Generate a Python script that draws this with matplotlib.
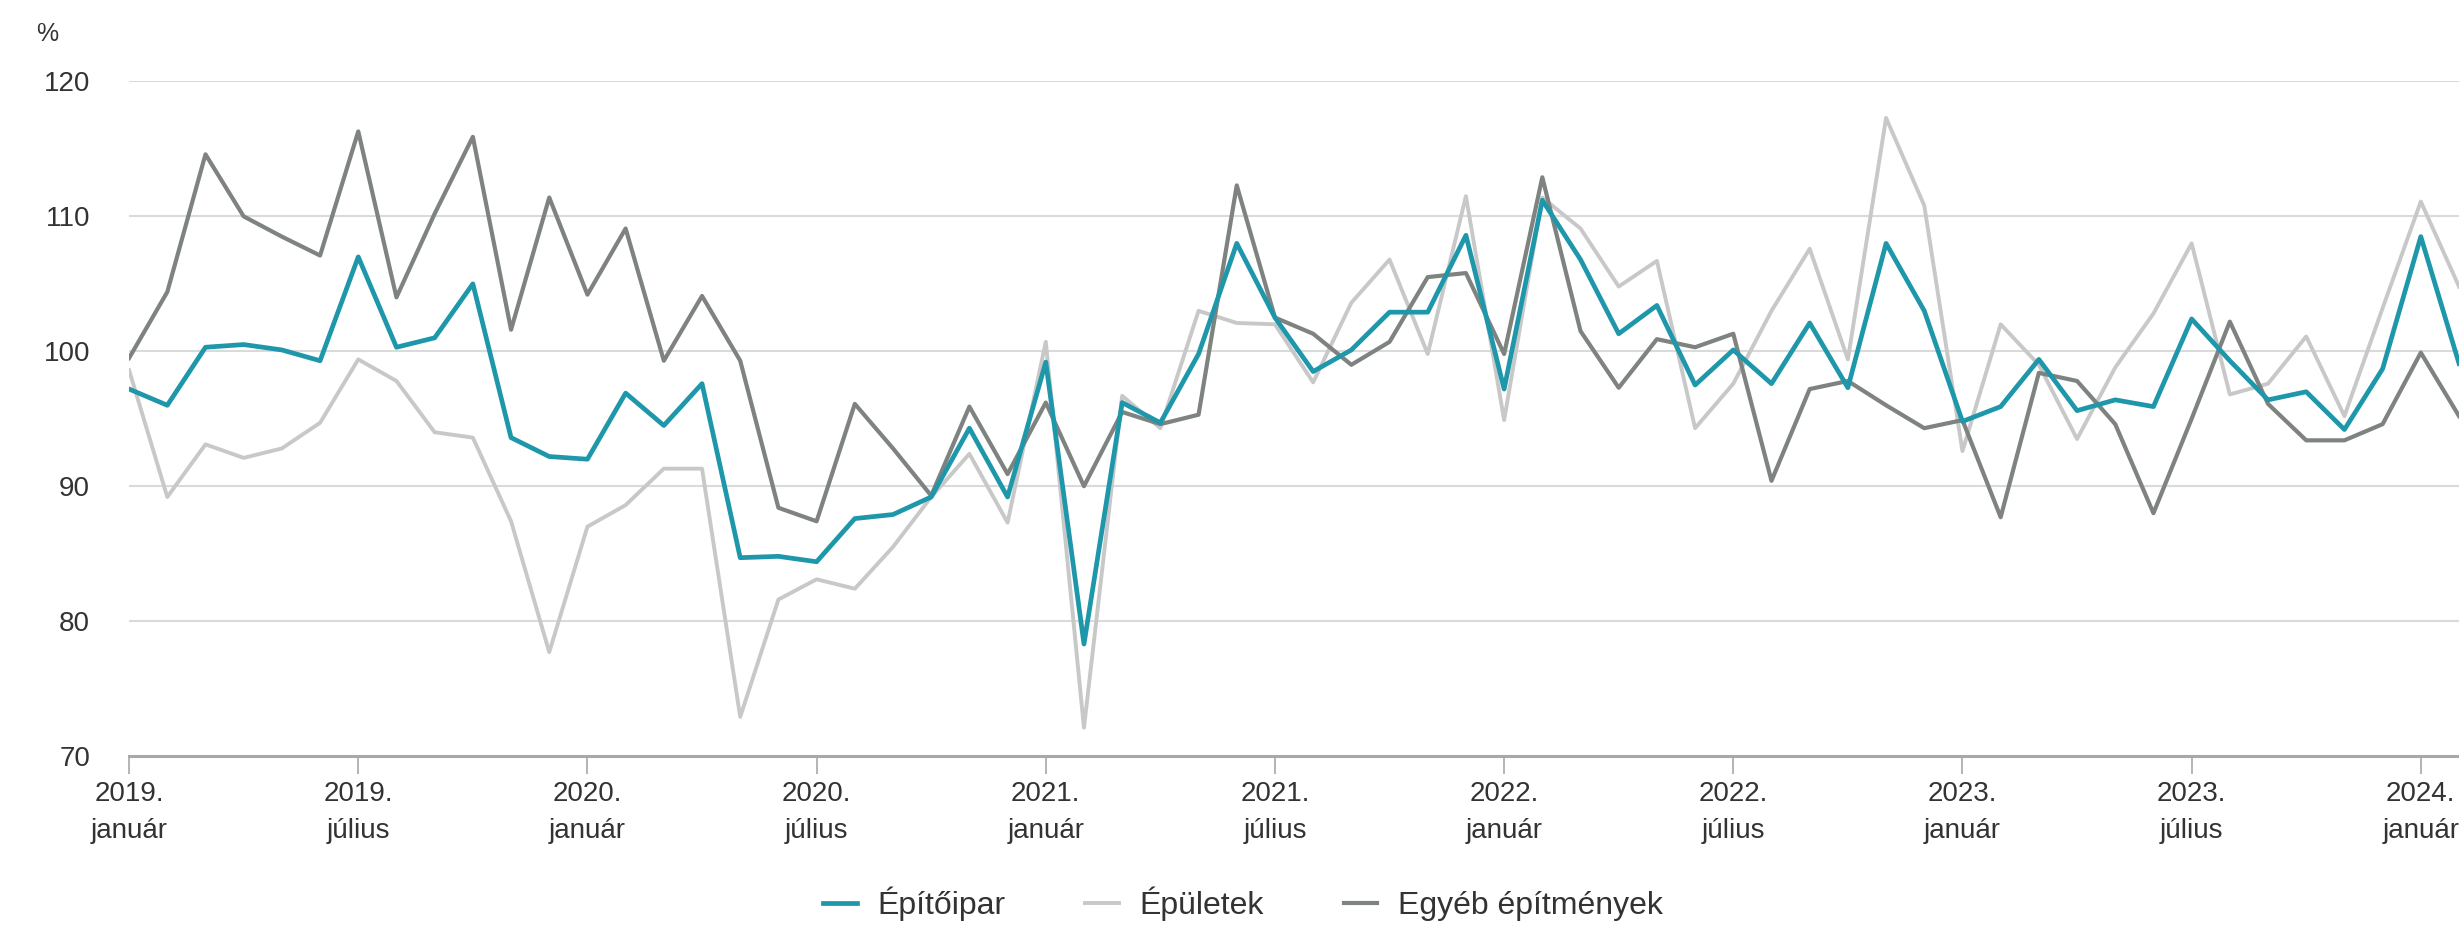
import numpy as np
import matplotlib.pyplot as plt

plt.rcParams['font.family'] = ['Liberation Sans', 'DejaVu Sans']

# monthly values, 2019 January .. 2024 February (previous year same month = 100)
months = np.arange(62)

epitoipar = [97.2, 96.0, 100.3, 100.5, 100.1, 99.3, 107.0, 100.3, 101.0, 105.0,
             93.6, 92.2, 92.0, 96.9, 94.5, 97.6, 84.7, 84.8, 84.4, 87.6,
             87.9, 89.2, 94.3, 89.2, 99.2, 78.3, 96.2, 94.7, 99.8, 108.0,
             102.5, 98.5, 100.1, 102.9, 102.9, 108.6, 97.2, 111.2, 106.8, 101.3,
             103.4, 97.5, 100.1, 97.6, 102.1, 97.3, 108.0, 103.0, 94.8, 95.9,
             99.4, 95.6, 96.4, 95.9, 102.4, 99.3, 96.4, 97.0, 94.2, 98.7,
             108.5, 99.1]

epuletek = [98.6, 89.2, 93.1, 92.1, 92.8, 94.7, 99.4, 97.8, 94.0, 93.6,
            87.4, 77.7, 87.0, 88.6, 91.3, 91.3, 72.9, 81.6, 83.1, 82.4,
            85.5, 89.2, 92.4, 87.3, 100.7, 72.1, 96.7, 94.3, 103.0, 102.1,
            102.0, 97.7, 103.6, 106.8, 99.8, 111.5, 94.9, 111.4, 109.1, 104.8,
            106.7, 94.3, 97.6, 103.0, 107.6, 99.4, 117.3, 110.8, 92.6, 102.0,
            99.0, 93.5, 98.8, 102.8, 108.0, 96.8, 97.6, 101.1, 95.2, 103.2,
            111.1, 104.8]

egyeb = [99.5, 104.4, 114.6, 110.0, 108.5, 107.1, 116.3, 104.0, 110.2, 115.9,
         101.6, 111.4, 104.2, 109.1, 99.3, 104.1, 99.3, 88.4, 87.4, 96.1,
         92.8, 89.3, 95.9, 90.9, 96.2, 90.0, 95.5, 94.6, 95.3, 112.3,
         102.5, 101.3, 99.0, 100.7, 105.5, 105.8, 99.8, 112.9, 101.5, 97.3,
         100.9, 100.3, 101.3, 90.4, 97.2, 97.8, 96.0, 94.3, 94.9, 87.7,
         98.4, 97.8, 94.6, 88.0, 95.0, 102.2, 96.1, 93.4, 93.4, 94.6,
         99.9, 95.2]

tick_pos = np.arange(0, 61, 6)
tick_labels = ['2019.\njanuár', '2019.\njúlius', '2020.\njanuár', '2020.\njúlius',
               '2021.\njanuár', '2021.\njúlius', '2022.\njanuár', '2022.\njúlius',
               '2023.\njanuár', '2023.\njúlius', '2024.\njanuár']

fig = plt.figure(figsize=(24.59, 9.25), dpi=100)
ax = fig.add_axes([0.0525, 0.1827, 0.9475, 0.7292])

ax.plot(months, epuletek, color='#c8c8c8', lw=2.8, label='Épületek', zorder=3)
ax.plot(months, egyeb, color='#7e8380', lw=3.0, label='Egyéb építmények', zorder=4)
ax.plot(months, epitoipar, color='#1f97ab', lw=3.4, label='Építőipar', zorder=5)

ax.set_xlim(0, 61)
ax.set_ylim(70, 120)
ax.set_yticks([70, 80, 90, 100, 110, 120])
ax.set_xticks(tick_pos)
ax.set_xticklabels(tick_labels, linespacing=1.55)

for y in [80, 90, 100, 110, 120]:
    ax.axhline(y, color='#dadada', lw=1.5, zorder=1)

for s in ['top', 'right', 'left']:
    ax.spines[s].set_visible(False)
ax.spines['bottom'].set_color('#a8a8a8')
ax.spines['bottom'].set_linewidth(2.2)

ax.tick_params(axis='x', length=13, width=1.2, color='#a8a8a8', pad=5,
               labelsize=20, labelcolor='#333333')
ax.tick_params(axis='y', length=0, pad=28, labelsize=20, labelcolor='#333333')

fig.text(47 / 2459, 1 - 34 / 925, '%', fontsize=18, color='#333333',
         ha='center', va='center')

# legend at bottom, same order as original
h, l = ax.get_legend_handles_labels()
order = [2, 0, 1]
fig.legend([h[i] for i in order], [l[i] for i in order], loc='center',
           bbox_to_anchor=(1243 / 2459, 1 - 904 / 925), ncol=3, frameon=False,
           fontsize=23, handlelength=1.05, handletextpad=0.65, columnspacing=2.5,
           labelcolor='#333333', borderpad=0.1)

plt.savefig('out.png', dpi=100)
